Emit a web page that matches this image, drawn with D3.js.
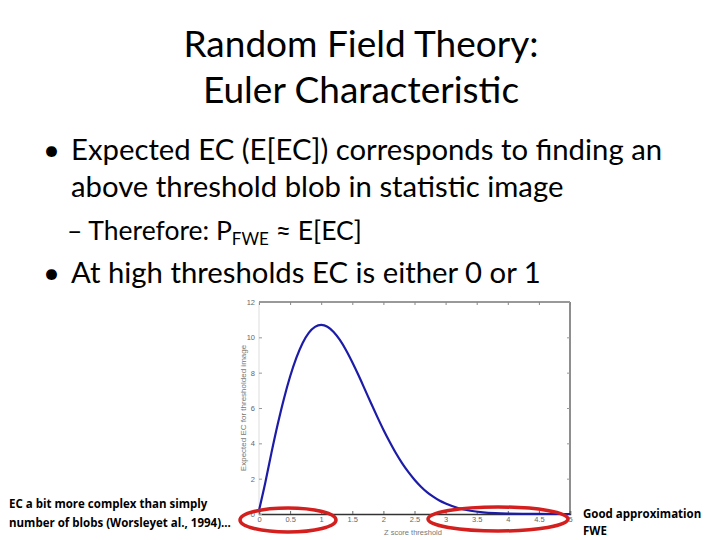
<!DOCTYPE html>
<html><head><meta charset="utf-8">
<script src="https://cdn.jsdelivr.net/npm/d3@7"></script>
<style>body{margin:0;background:#fff}svg{display:block}</style>
</head><body>
<script>
// data
const zThreshold = [0,0.1,0.2,0.3,0.4,0.5,0.6,0.7,0.8,0.9,1.0,1.1,1.2,1.3,1.4,1.5,1.6,1.7,1.8,1.9,2.0,2.1,2.2,2.3,2.4,2.5,2.6,2.7,2.8,2.9,3.0,3.2,3.4,3.6,3.8,4.0,4.5,5.0];
const expectedEC = [0.2,1.75,3.46,5.06,6.51,7.78,8.84,9.67,10.25,10.59,10.7,10.6,10.3,9.85,9.27,8.59,7.85,7.07,6.28,5.51,4.77,4.09,3.45,2.88,2.38,1.94,1.56,1.24,0.98,0.76,0.59,0.34,0.185,0.097,0.049,0.024,0.002,0];
const xTicks = [0,0.5,1,1.5,2,2.5,3,3.5,4,4.5,5];
const yTicks = [0,2,4,6,8,10,12];
const titleLines = ["Random Field Theory:", "Euler Characteristic"];
const xLabel = "Z score threshold";
const yLabel = "Expected EC for thresholded image";

const W = 720, H = 540;
const svg = d3.select("body").append("svg").attr("width", W).attr("height", H);
const font = "Lato, 'Open Sans', sans-serif";

// title
svg.selectAll("text.title").data(titleLines).join("text")
  .attr("x", 361).attr("y", (d,i) => 57 + i*46)
  .attr("text-anchor", "middle").attr("font-family", font).attr("font-size", 37)
  .attr("fill", "#000").text(d => d);

// bullets
const bfs = 29.3;
svg.append("text").attr("x", 43).attr("y", 160).attr("font-family", font).attr("font-size", bfs).text("•");
svg.append("text").attr("x", 71).attr("y", 160).attr("font-family", font).attr("font-size", bfs)
  .text("Expected EC (E[EC]) corresponds to finding an");
svg.append("text").attr("x", 71).attr("y", 197).attr("font-family", font).attr("font-size", bfs)
  .text("above threshold blob in statistic image");
const sub = svg.append("text").attr("x", 67).attr("y", 240).attr("font-family", font).attr("font-size", 26.5);
sub.append("tspan").text("– Therefore: P");
sub.append("tspan").attr("font-size", 17).attr("dy", 5).text("FWE");
sub.append("tspan").attr("dy", -5).text(" ≈ E[EC]");
svg.append("text").attr("x", 43).attr("y", 283).attr("font-family", font).attr("font-size", bfs).text("•");
svg.append("text").attr("x", 71).attr("y", 283).attr("font-family", font).attr("font-size", bfs)
  .text("At high thresholds EC is either 0 or 1");

// chart
const x = d3.scaleLinear().domain([0,5]).range([259,570]);
const y = d3.scaleLinear().domain([0,12]).range([514,302]);
const tickFont = "Arial, 'Liberation Sans', sans-serif";

svg.append("line").attr("x1", 259).attr("x2", 570).attr("y1", 302).attr("y2", 302)
  .attr("stroke", "#999").attr("stroke-width", 2);
svg.append("line").attr("x1", 570).attr("x2", 570).attr("y1", 302).attr("y2", 514)
  .attr("stroke", "#444").attr("stroke-width", 1.2);
svg.append("line").attr("x1", 259).attr("x2", 259).attr("y1", 302).attr("y2", 514)
  .attr("stroke", "#ddd").attr("stroke-width", 1);

const xAxis = svg.append("g").attr("transform", "translate(0,514)")
  .call(d3.axisBottom(x).tickValues(xTicks).tickSize(-3).tickPadding(3).tickFormat(d3.format("")));
xAxis.select(".domain").attr("stroke", "#333").attr("stroke-width", 1.5);
xAxis.selectAll(".tick line").attr("stroke", "#666");
xAxis.selectAll("text").attr("font-family", tickFont).attr("font-size", 7.5).attr("fill", "#666");

const xTop = svg.append("g").attr("transform", "translate(0,302)")
  .call(d3.axisTop(x).tickValues(xTicks).tickSize(-3).tickFormat(""));
xTop.select(".domain").remove();
xTop.selectAll(".tick line").attr("stroke", "#888");

const yAxis = svg.append("g").attr("transform", "translate(259,0)")
  .call(d3.axisLeft(y).tickValues(yTicks).tickSize(-3).tickPadding(4));
yAxis.select(".domain").remove();
yAxis.selectAll(".tick line").attr("stroke", "#999");
yAxis.selectAll("text").attr("font-family", tickFont).attr("font-size", 7.5).attr("fill", "#666");

const yRight = svg.append("g").attr("transform", "translate(570,0)")
  .call(d3.axisRight(y).tickValues(yTicks).tickSize(-3).tickFormat(""));
yRight.select(".domain").remove();
yRight.selectAll(".tick line").attr("stroke", "#999");

svg.append("text").attr("x", 413).attr("y", 535).attr("text-anchor", "middle")
  .attr("font-family", tickFont).attr("font-size", 7.5).attr("fill", "#777").text(xLabel);
svg.append("text").attr("transform", "translate(246,408) rotate(-90)").attr("text-anchor", "middle")
  .attr("font-family", tickFont).attr("font-size", 8).attr("fill", "#777").text(yLabel);

const line = d3.line().x((d,i) => x(zThreshold[i])).y(d => y(d)).curve(d3.curveMonotoneX);
svg.append("path").datum(expectedEC).attr("d", line).attr("fill", "none")
  .attr("stroke", "#1c1ca8").attr("stroke-width", 2.2);

// red ellipses
svg.append("ellipse").attr("cx", 288).attr("cy", 520).attr("rx", 48).attr("ry", 12)
  .attr("fill", "none").attr("stroke", "#d41f1f").attr("stroke-width", 3.5);
svg.append("ellipse").attr("cx", 498).attr("cy", 519).attr("rx", 70).attr("ry", 12)
  .attr("fill", "none").attr("stroke", "#d41f1f").attr("stroke-width", 3.5);

// notes
const noteFont = "'Open Sans', Lato, sans-serif";
svg.append("text").attr("x", 9).attr("y", 508).attr("font-family", noteFont).attr("font-weight", "bold")
  .attr("font-size", 11.5).text("EC a bit more complex than simply");
svg.append("text").attr("x", 9).attr("y", 527).attr("font-family", noteFont).attr("font-weight", "bold")
  .attr("font-size", 11.5).text("number of blobs (Worsleyet al., 1994)...");
svg.append("text").attr("x", 583).attr("y", 518).attr("font-family", noteFont).attr("font-weight", "bold")
  .attr("font-size", 11.5).text("Good approximation");
svg.append("text").attr("x", 583).attr("y", 535).attr("font-family", noteFont).attr("font-weight", "bold")
  .attr("font-size", 11.5).text("FWE");
</script>
</body></html>
